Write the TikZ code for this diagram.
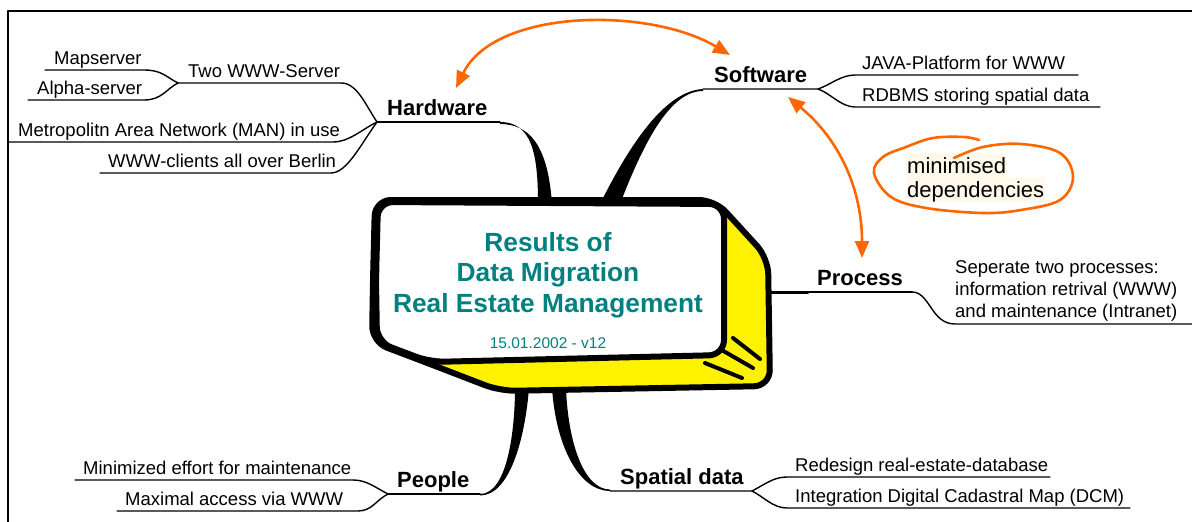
\documentclass[tikz,border=0pt]{standalone}
\usepackage{fontspec}
\setmainfont{Liberation Sans}
\usetikzlibrary{arrows.meta,calc}
\definecolor{mmteal}{RGB}{0,128,128}
\definecolor{mmorange}{RGB}{255,102,0}
\definecolor{mmcream}{RGB}{255,249,236}
\begin{document}
\begin{tikzpicture}[x=1pt,y=-1pt,line join=round,line cap=round,
	leaf/.style={anchor=base west,inner sep=0pt,font=\fontsize{18.5}{22}\selectfont},
	head/.style={anchor=base west,inner sep=0pt,font=\fontsize{22}{26}\selectfont\bfseries},
	twig/.style={line width=1.4pt},
	link/.style={draw=mmorange,line width=2.6pt,{Triangle[length=17pt,width=14pt]}-{Triangle[length=17pt,width=14pt]}}]
	\useasboundingbox (0,0) rectangle (1192,522);
	\draw[line width=2pt] (8,522)--(8,11)--(1192,11);
	% leaves: name / text x / line start / line end / line y / text
	\foreach \n/\t/\a/\b/\y/\s in {ms/54/45/144/70/Mapserver, as/37/28/144/100/Alpha-server,
		tws/188/178/341/83/Two WWW-Server, man/18/8/333/142/Metropolitn Area Network (MAN) in use,
		cl/108/100/331/173/WWW-clients all over Berlin, java/862/855/1078/75/JAVA-Platform for WWW,
		db/862/855/1100/107/RDBMS storing spatial data, min/83/75/353/480/Minimized effort for maintenance,
		max/125/117/358/511/Maximal access via WWW, rd/795/787/1050/477/Redesign real-estate-database,
		dcm/795/787/1130/508/Integration Digital Cadastral Map (DCM)}{
		\node[leaf] (\n) at (\t,\y-6) {\s};
		\coordinate (\n L) at (\a,\y); \coordinate (\n R) at (\b,\y);
	}
	% main branches
	\foreach \n/\t/\a/\b/\y/\s in {hw/387/377/500/122/Hardware, sw/714/703/818/89/Software,
		pr/817/770/912/292/Process, pe/397/388/480/494/People, sd/620/610/752/491/Spatial data}{
		\node[head] (\n) at (\t,\y-7) {\s};
		\coordinate (\n L) at (\a,\y); \coordinate (\n R) at (\b,\y);
	}
	\node[leaf,align=left] (prx) at (955,317) {Seperate two processes:\\information retrival (WWW)\\and maintenance (Intranet)};
	\coordinate (prxL) at (955,324); \coordinate (prxR) at (1192,324);
	% thick stems to the sign
	\coordinate (hwB) at (538,204); \coordinate (swB) at (600,204);
	\coordinate (peB) at (515,388); \coordinate (sdB) at (552,388);
	\fill (hwR) .. controls +(32,0) and +(0,-50) .. (hwB) -- ++(14,0) .. controls +(-4,-58) and +(30,0) .. ($(hwR)+(0,2)$) -- cycle;
	\fill (swL) .. controls +(-38,2) and +(30,-60) .. (swB) -- ++(20,0) .. controls +(25,-65) and +(-32,0) .. ($(swL)+(0,2)$) -- cycle;
	\fill (peR) .. controls +(28,0) and +(0,40) .. (peB) -- ++(14,0) .. controls +(-4,50) and +(30,0) .. ($(peR)+(0,1.5)$) -- cycle;
	\fill (sdB) .. controls +(4,60) and +(-30,0) .. (sdL) -- ++(0,-1.5) .. controls +(-26,0) and +(2,55) .. ($(sdB)+(14,0)$) -- cycle;
	\draw[twig] (prL)--(prR);
	\draw[line width=3pt] (prL)--++(38,0);
	% the sign
	\draw[line width=6pt,fill=yellow,rounded corners=16pt] (373,280)--(375,200)--(715,200)--(768,258)--(770,386)--(500,391)--(430,364)--(372,342)--cycle;
	\draw[line width=6pt,fill=white,rounded corners=15pt] (376,280)--(378,202)--(724,204)--(724,355)--(430,362)--(377,342)--cycle;
	\draw[line width=4pt] (733,338)--(760,359) (720,349)--(753,368) (705,363)--(742,378);
	\node[anchor=base,inner sep=0pt,align=center,text=mmteal,font=\fontsize{26.3}{30.5}\selectfont\bfseries] (title) at (548,312) {Results of\\Data Migration\\Real Estate Management};
	\node[anchor=base,inner sep=0pt,text=mmteal,font=\fontsize{15.5}{18}\selectfont] (date) at (548,348) {15.01.2002 - v12};
	% twigs
	\draw[twig] (msL)--(msR) .. controls +(18,0) and +(-12,-6) .. (twsL);
	\draw[twig] (asL)--(asR) .. controls +(18,0) and +(-12,6) .. (twsL);
	\draw[twig] (twsL)--(twsR) .. controls +(16,0) and +(-12,-18) .. (hwL);
	\draw[twig] (manL)--(manR) .. controls +(16,0) and +(-16,8) .. (hwL);
	\draw[twig] (clL)--(clR) .. controls +(16,0) and +(-16,22) .. (hwL);
	\draw[twig] (hwL)--(hwR);
	\draw[twig] (swL)--(swR) .. controls +(12,-4) and +(-14,0) .. (javaL)--(javaR);
	\draw[twig] (swR) .. controls +(12,4) and +(-14,0) .. (dbL)--(dbR);
	\draw[twig] (prR) .. controls +(18,0) and +(-24,0) .. (prxL)--(prxR);
	\draw[twig] (minL)--(minR) .. controls +(14,0) and +(-12,-6) .. (peL);
	\draw[twig] (maxL)--(maxR) .. controls +(14,0) and +(-12,6) .. (peL);
	\draw[twig] (peL)--(peR);
	\draw[twig] (sdL)--(sdR) .. controls +(12,-6) and +(-14,0) .. (rdL)--(rdR);
	\draw[twig] (sdR) .. controls +(12,6) and +(-14,0) .. (dcmL)--(dcmR);
	% dependencies
	\coordinate (aHw) at (456,88); \coordinate (aSw) at (730,55);
	\coordinate (aSw2) at (788,97); \coordinate (aPr) at (862,258);
	\draw[link] (aHw) .. controls +(39,-80) and +(-80,-48) .. (aSw);
	\draw[link] (aSw2) .. controls +(52,43) and +(0,-68) .. (aPr);
	\node[leaf,fill=mmcream,inner sep=1pt,text height=19pt,text depth=3pt,font=\fontsize{22}{25}\selectfont] (mini) at (906,173) {minimised};
	\node[leaf,fill=mmcream,inner sep=1pt,text height=19pt,text depth=4pt,font=\fontsize{22}{25}\selectfont] (dep) at (906,197) {dependencies};
	\draw[mmorange,line width=2.6pt] plot[smooth,tension=0.6] coordinates {(954,158) (983,147) (1021,144) (1060,153) (1073,177) (1060,200) (1021,210) (983,213) (926,208) (891,197) (874,173) (883,157) (906,147) (933,138) (964,137) (979,140)};
\end{tikzpicture}
\end{document}
